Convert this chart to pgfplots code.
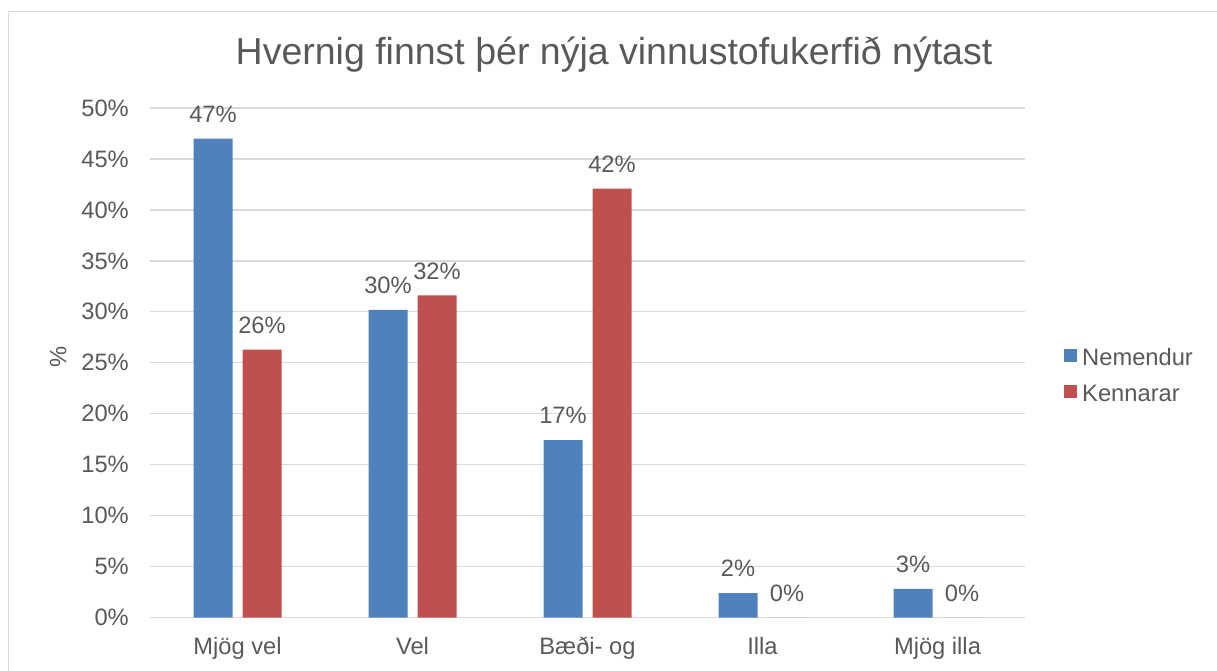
\documentclass[border=0pt]{standalone}
\usepackage{pgfplots}
\pgfplotsset{compat=1.18}
\usepackage{fontspec}
\setmainfont{Liberation Sans}
\definecolor{txt}{HTML}{595959}
\definecolor{gridc}{HTML}{D9D9D9}
\definecolor{blueb}{HTML}{4F81BD}
\definecolor{redb}{HTML}{C0504D}
\newcommand{\lblfont}{\fontsize{23.7}{28.4}\selectfont}
\begin{document}
\begin{tikzpicture}[x=1pt,y=1pt]
\useasboundingbox (0,0) rectangle (1217,670);
\draw[gridc, line width=1.5pt] (8.5,-20) -- (8.5,658.5) -- (1240,658.5);
\begin{axis}[
  at={(150pt,52.5pt)}, anchor=south west,
  width=875pt, height=509.5pt, scale only axis,
  /pgf/number format/assume math mode=true,
  ymin=0, ymax=50, ytick={0,5,...,50},
  xmin=-0.5, xmax=4.5, xtick={0,1,2,3,4},
  xticklabels={Mjög vel, Vel, Bæði- og, Illa, Mjög illa},
  ybar=10pt, bar width=39pt,
  axis line style={draw=none},
  major tick length=0pt,
  ymajorgrids, grid style={gridc, line width=1.3pt},
  tick label style={font=\lblfont, text=txt},
  yticklabel={\pgfmathprintnumber{\tick}\%},
  yticklabel style={anchor=east, inner sep=0pt, xshift=-21pt},
  xticklabel style={anchor=base, inner sep=0pt, yshift=-36.8pt},
  ylabel={\%},
  ylabel style={at={(axis description cs:-0.105,0.511)}, anchor=center, font=\lblfont, text=txt},
  nodes near coords={\pgfmathprintnumber[fixed,precision=0,assume math mode=true]{\pgfplotspointmeta}\%},
  every node near coord/.append style={font=\lblfont, text=txt, inner sep=0pt, anchor=south, yshift=16pt},
  legend style={at={(axis description cs:1.0446,0.474)}, anchor=west, draw=none, fill=none,
    font=\lblfont, text=txt, inner sep=0pt, row sep=18pt,
    nodes={inner sep=0pt},
    /tikz/every odd column/.append style={column sep=5pt}},
  legend cell align=left,
]
\addplot[fill=blueb, draw=none, legend image code/.code={\fill[blueb] (0pt,-4pt) rectangle (13pt,9pt);}]
  coordinates {(0,47.0) (1,30.2) (2,17.4) (3,2.4) (4,2.8)};
\addplot[fill=redb, draw=none, legend image code/.code={\fill[redb] (0pt,-4pt) rectangle (13pt,9pt);}]
  coordinates {(0,26.3) (1,31.6) (2,42.1) (3,0) (4,0)};
\legend{Nemendur, Kennarar}
\end{axis}
\node[anchor=base, font=\fontsize{37.5}{45}\selectfont, text=txt] at (614,605) {Hvernig finnst þér nýja vinnustofukerfið nýtast};
\end{tikzpicture}
\end{document}
